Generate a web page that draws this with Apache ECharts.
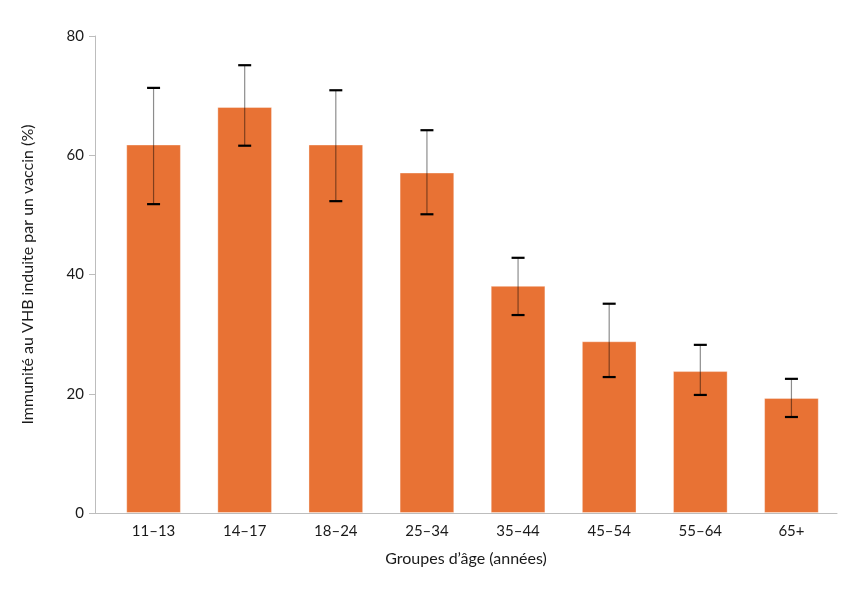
<!DOCTYPE html>
<html>
<head>
<meta charset="utf-8">
<script src="https://cdn.jsdelivr.net/npm/echarts@6/dist/echarts.min.js"></script>
<style>html,body{margin:0;padding:0;background:#fff}#c{width:850px;height:599px}</style>
</head>
<body>
<div id="c"></div>
<script>
const categories = ['11–13', '14–17', '18–24', '25–34', '35–44', '45–54', '55–64', '65+'];
const values = [61.8, 68.1, 61.8, 57.1, 38.1, 28.8, 23.8, 19.3];
const lower = [51.8, 61.6, 52.3, 50.1, 33.2, 22.8, 19.8, 16.1];
const upper = [71.3, 75.1, 70.9, 64.2, 42.8, 35.1, 28.2, 22.5];
const yTicks = [0, 20, 40, 60, 80];

const FONT = 'Lato';
const chart = echarts.init(document.getElementById('c'));
chart.setOption({
  animation: false,
  textStyle: { fontFamily: FONT },
  grid: [
    { left: 95, right: 13, top: 36, bottom: 86 },
    { left: 108, right: 13, top: 36, bottom: 86 }
  ],
  xAxis: [
    { gridIndex: 0, type: 'value', min: 0, max: 1,
      axisLine: { show: true, lineStyle: { color: '#bdbdbd', width: 1 } },
      axisTick: { show: false }, axisLabel: { show: false }, splitLine: { show: false },
      name: 'Groupes d’âge (années)', nameLocation: 'middle', nameGap: 38,
      nameTextStyle: { fontFamily: FONT, fontSize: 16, color: '#1a1a1a' } },
    { gridIndex: 1, type: 'category', data: categories,
      axisLine: { show: false }, axisTick: { show: false },
      axisLabel: { fontFamily: FONT, fontSize: 15, color: '#1a1a1a', margin: 11 } }
  ],
  yAxis: [
    { gridIndex: 0, type: 'value', min: yTicks[0], max: yTicks[yTicks.length - 1], interval: 20,
      axisLine: { show: true, lineStyle: { color: '#bdbdbd', width: 1 } },
      axisTick: { show: true, length: 6, lineStyle: { color: '#bdbdbd' } },
      axisLabel: { fontFamily: FONT, fontSize: 15, color: '#1a1a1a', margin: 11 },
      splitLine: { show: false },
      name: 'Immunité au VHB induite par un vaccin (%)', nameLocation: 'middle', nameGap: 59,
      nameTextStyle: { fontFamily: FONT, fontSize: 16, color: '#1a1a1a' } },
    { gridIndex: 1, type: 'value', min: 0, max: 80, show: false }
  ],
  series: [
    { type: 'bar', xAxisIndex: 1, yAxisIndex: 1, data: values, barWidth: '60%',
      itemStyle: { color: '#E87234', borderColor: 'rgba(255,255,255,0.35)', borderWidth: 1 } },
    { type: 'custom', xAxisIndex: 1, yAxisIndex: 1,
      data: categories.map((c, i) => [i, lower[i], upper[i]]),
      renderItem: function (params, api) {
        const x = api.coord([api.value(0), 0])[0];
        const lo = api.coord([api.value(0), api.value(1)])[1];
        const hi = api.coord([api.value(0), api.value(2)])[1];
        const hw = 6.5;
        return { type: 'group', children: [
          { type: 'line', shape: { x1: x, y1: hi, x2: x, y2: lo },
            style: { stroke: 'rgba(0,0,0,0.45)', lineWidth: 1.2 } },
          { type: 'line', shape: { x1: x - hw, y1: hi, x2: x + hw, y2: hi },
            style: { stroke: '#000', lineWidth: 2.2 } },
          { type: 'line', shape: { x1: x - hw, y1: lo, x2: x + hw, y2: lo },
            style: { stroke: '#000', lineWidth: 2.2 } }
        ] };
      },
      z: 5 }
  ]
});
</script>
</body>
</html>
